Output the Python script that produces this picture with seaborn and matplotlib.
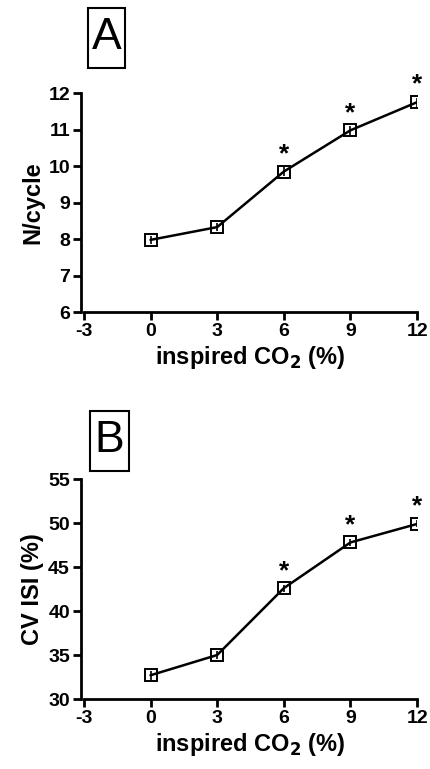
import numpy as np
import pandas as pd
import matplotlib
matplotlib.use("Agg")
import matplotlib.pyplot as plt
from matplotlib.patches import Rectangle
import seaborn as sns

# data
co2 = [0, 3, 6, 9, 12]
n_cycle = [7.98, 8.33, 9.85, 10.98, 11.75]
n_cycle_err = [0.12, 0.12, 0.12, 0.12, 0.12]
cv_isi = [32.7, 35.0, 42.6, 47.8, 49.9]
cv_isi_err = [0.5, 0.5, 0.4, 0.4, 0.4]
signif = [False, False, True, True, True]

sns.set_style("ticks")
plt.rcParams['font.family'] = ['Liberation Sans', 'DejaVu Sans']
plt.rcParams['font.weight'] = 'bold'
plt.rcParams['axes.unicode_minus'] = False
plt.rcParams['text.color'] = 'black'
plt.rcParams['axes.labelcolor'] = 'black'
plt.rcParams['xtick.color'] = 'black'
plt.rcParams['ytick.color'] = 'black'
plt.rcParams['axes.edgecolor'] = 'black'
plt.rcParams['mathtext.default'] = 'bf'

fig = plt.figure(figsize=(4.3, 7.69), dpi=100)
axA = fig.add_axes([0.195, 0.594, 0.775, 0.285])
axB = fig.add_axes([0.195, 0.091, 0.775, 0.286])


def panel(ax, y, yerr, ylim, yticks, ylabel, star_off):
    df = pd.DataFrame({"co2": co2, "val": y})
    ax.errorbar(co2, y, yerr=yerr, fmt='none', ecolor='black', elinewidth=1.2,
                capsize=0, zorder=4)
    sns.lineplot(data=df, x="co2", y="val", ax=ax, color="black", linewidth=1.8,
                 marker="s", markersize=9, markerfacecolor="none",
                 markeredgecolor="black", markeredgewidth=1.4, zorder=3)
    for xv, yv, s in zip(co2, y, signif):
        if s:
            ax.text(xv, yv + star_off, "*", ha="center", va="bottom",
                    fontsize=19, fontweight="bold")
    ax.set_xlim(-3, 12)
    ax.set_ylim(*ylim)
    ax.set_xticks([-3, 0, 3, 6, 9, 12])
    ax.set_yticks(yticks)
    ax.set_xlabel("inspired CO$_2$ (%)", fontsize=17, fontweight="bold", labelpad=3)
    ax.set_ylabel(ylabel, fontsize=17, fontweight="bold", labelpad=3)
    ax.tick_params(width=2, length=6, pad=2, labelsize=14)
    for sp in ["left", "bottom"]:
        ax.spines[sp].set_linewidth(2)
    sns.despine(ax=ax)
    ax.spines["left"].set_position(("outward", 2))


def letter_box(x0, y0, w, h, letter):
    fig.add_artist(Rectangle((x0, y0), w, h, transform=fig.transFigure,
                             fill=False, ec="black", lw=1.5))
    fig.text(x0 + w / 2, y0 + h / 2, letter, ha="center", va="center",
             fontsize=32, fontweight="normal")


panel(axA, n_cycle, n_cycle_err, (6, 12), range(6, 13), "N/cycle", 0.15)
panel(axB, cv_isi, cv_isi_err, (30, 55), range(30, 56, 5), "CV ISI (%)", 0.6)

letter_box(0.205, 0.912, 0.086, 0.078, "A")
letter_box(0.209, 0.388, 0.091, 0.078, "B")

fig.savefig("out.png", dpi=100)
